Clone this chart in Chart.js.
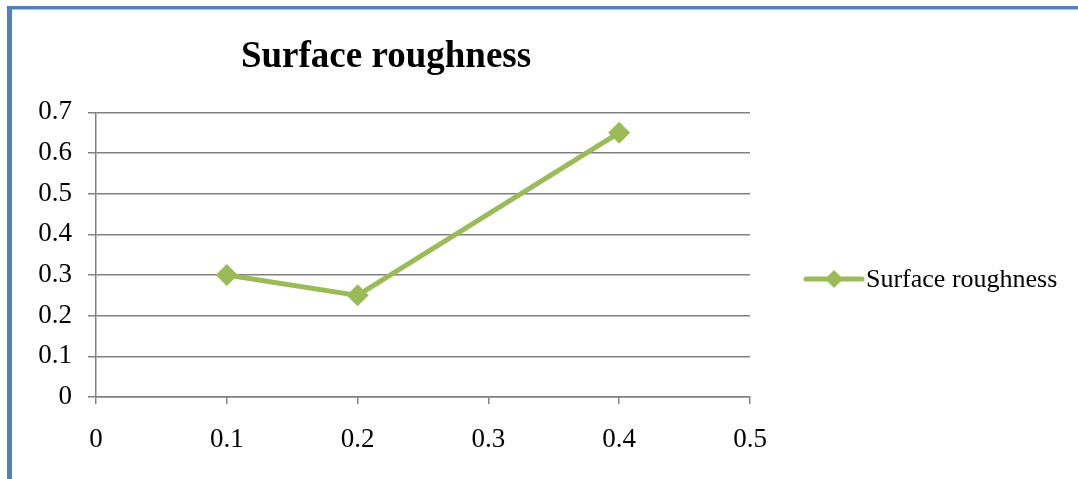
<!DOCTYPE html>
<html>
<head>
<meta charset="utf-8">
<script src="https://cdn.jsdelivr.net/npm/chart.js@4/dist/chart.umd.min.js"></script>
<style>
  html, body { margin: 0; padding: 0; background: #ffffff; }
  #wrap { position: relative; width: 1078px; height: 479px; overflow: hidden; }
  #frameTop { position: absolute; left: 7px; top: 6px; width: 1071px; height: 3px; background: #4f81bd; border-bottom: 1px solid #a9c3e3; }
  #frameLeft { position: absolute; left: 7px; top: 6px; width: 5px; height: 473px; background: #4f81bd; }
  canvas { position: absolute; left: 0; top: 0; }
</style>
</head>
<body>
<div id="wrap">
  <canvas id="chart" width="1078" height="479"></canvas>
  <div id="frameTop"></div>
  <div id="frameLeft"></div>
</div>
<script>
// Feed values and measured roughness
const feedValues = [0.1, 0.2, 0.4];
const roughnessValues = [0.30, 0.25, 0.65];
const seriesName = 'Surface roughness';
const chartTitle = 'Surface roughness';

const serif = "'Times New Roman', 'Liberation Serif', serif";
const green = '#9bbb59';
const gridGray = '#808080';

// Line-with-diamond legend entry to the right of the plot
const sideLegend = {
  id: 'sideLegend',
  afterDraw(chart) {
    const ctx = chart.ctx;
    const ds = chart.data.datasets[0];
    const y = 279;
    const x0 = 806, x1 = 862, xm = (x0 + x1) / 2;
    ctx.save();
    ctx.strokeStyle = ds.borderColor;
    ctx.lineWidth = 5;
    ctx.lineCap = 'round';
    ctx.beginPath();
    ctx.moveTo(x0, y);
    ctx.lineTo(x1, y);
    ctx.stroke();
    ctx.fillStyle = ds.pointBackgroundColor;
    const r = 9;
    ctx.beginPath();
    ctx.moveTo(xm, y - r);
    ctx.lineTo(xm + r, y);
    ctx.lineTo(xm, y + r);
    ctx.lineTo(xm - r, y);
    ctx.closePath();
    ctx.fill();
    ctx.fillStyle = '#000000';
    ctx.font = '26px ' + serif;
    ctx.textBaseline = 'middle';
    ctx.textAlign = 'left';
    ctx.fillText(ds.label, 866, y + 1);
    ctx.restore();
  }
};

new Chart(document.getElementById('chart'), {
  type: 'scatter',
  data: {
    datasets: [{
      label: seriesName,
      data: feedValues.map((x, i) => ({ x: x, y: roughnessValues[i] })),
      showLine: true,
      borderColor: green,
      backgroundColor: green,
      pointBackgroundColor: green,
      pointBorderColor: green,
      borderWidth: 5,
      pointStyle: 'rectRot',
      pointRadius: 11,
      pointBorderWidth: 0,
      tension: 0
    }]
  },
  options: {
    responsive: false,
    animation: false,
    events: [],
    layout: { padding: { left: 22, right: 328, top: 0, bottom: 0 } },
    plugins: {
      legend: { display: false },
      tooltip: { enabled: false },
      title: {
        display: true,
        text: chartTitle,
        color: '#000000',
        font: { family: serif, size: 37, weight: 'bold', lineHeight: 1.2 },
        padding: { top: 35, bottom: 33 }
      }
    },
    scales: {
      x: {
        type: 'linear',
        min: 0,
        max: 0.5,
        afterFit(scale) { scale.height = 82; },
        ticks: {
          stepSize: 0.1,
          color: '#000000',
          font: { family: serif, size: 27 },
          padding: 20,
          maxRotation: 0,
          callback: v => String(Math.round(v * 10) / 10)
        },
        grid: { drawOnChartArea: false, drawTicks: true, tickLength: 7, color: gridGray, lineWidth: 1.5 },
        border: { color: gridGray, width: 1.5 }
      },
      y: {
        min: 0,
        max: 0.7,
        afterFit(scale) { scale.width = 74; },
        ticks: {
          stepSize: 0.1,
          color: '#000000',
          font: { family: serif, size: 27 },
          padding: 16,
          callback: v => String(Math.round(v * 10) / 10)
        },
        grid: { drawOnChartArea: true, drawTicks: true, tickLength: 8, color: gridGray, lineWidth: 1.5 },
        border: { color: gridGray, width: 1.5 }
      }
    }
  },
  plugins: [sideLegend]
});
</script>
</body>
</html>
